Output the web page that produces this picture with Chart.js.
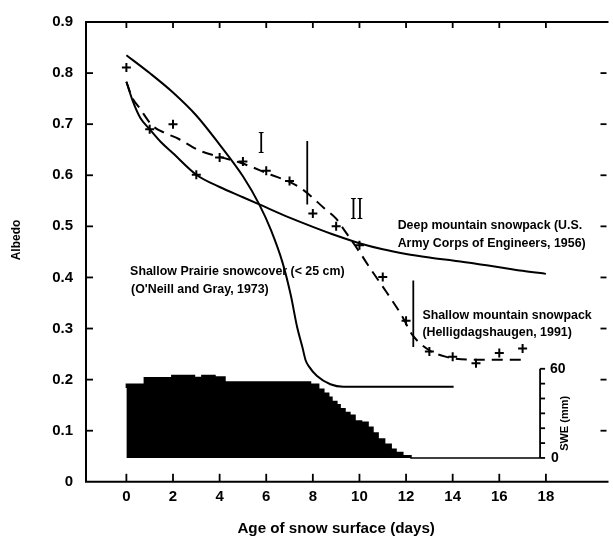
<!DOCTYPE html>
<html><head><meta charset="utf-8">
<script src="https://cdn.jsdelivr.net/npm/chart.js@4/dist/chart.umd.min.js"></script>
<style>html,body{margin:0;padding:0;background:#fff;}#wrap{width:613px;height:541px;}</style>
</head><body><div id="wrap"><canvas id="c" width="613" height="541"></canvas></div>
<script>
// ---- tick labels ----
const xTicks = [0, 2, 4, 6, 8, 10, 12, 14, 16, 18];
const yTicks = [0, 0.1, 0.2, 0.3, 0.4, 0.5, 0.6, 0.7, 0.8, 0.9];
const sweTicks = [0, 10, 20, 30, 40, 50, 60];
const sweTickLabels = ['0', '60'];

// ---- observed albedo (+ markers) ----
const obsDays   = [0, 1, 2, 3, 4, 5, 6, 7, 8, 9, 10, 11, 12, 13, 14, 15, 16, 17];
const obsAlbedo = [0.811, 0.690, 0.700, 0.601, 0.635, 0.627, 0.609, 0.589, 0.525, 0.500, 0.463, 0.401, 0.315, 0.255, 0.245, 0.232, 0.252, 0.261];

// ---- Shallow Prairie snowcover (O'Neill and Gray, 1973) ----
const prairieDays   = [0, 1, 2, 3, 4, 5, 5.7, 6.2, 6.7, 7.05, 7.33, 7.55, 7.69, 7.83, 8.18, 8.75, 9.31, 14.04];
const prairieAlbedo = [0.835, 0.800, 0.762, 0.717, 0.660, 0.598, 0.543, 0.493, 0.429, 0.366, 0.302, 0.264, 0.238, 0.226, 0.207, 0.191, 0.186, 0.186];

// ---- Deep mountain snowpack (U.S. Army Corps of Engineers, 1956) ----
const deepDays   = [0, 0.3, 0.6, 1, 1.5, 2, 3, 4, 5, 5.7, 7, 8, 9, 10, 11, 12, 13, 14, 15, 16, 17, 18];
const deepAlbedo = [0.783, 0.742, 0.712, 0.690, 0.664, 0.643, 0.601, 0.577, 0.557, 0.543, 0.517, 0.499, 0.482, 0.467, 0.455, 0.446, 0.439, 0.433, 0.427, 0.420, 0.413, 0.407];

// ---- Shallow mountain snowpack (Helligdagshaugen, 1991) ----
const shallowDays   = [0, 0.25, 0.56, 1.12, 1.7, 2.25, 3.1, 4, 4.93, 6.2, 7, 7.6, 8.5, 9, 9.31, 10, 10.5, 11, 11.78, 12.28, 12.98, 13.69, 14.82, 17];
const shallowAlbedo = [0.783, 0.752, 0.732, 0.697, 0.682, 0.671, 0.649, 0.636, 0.624, 0.601, 0.587, 0.571, 0.535, 0.515, 0.495, 0.450, 0.415, 0.382, 0.328, 0.287, 0.258, 0.245, 0.239, 0.239];

// ---- SWE (mm), stepped ----
const sweDays = [0, 0.77, 1.95, 2.92, 3.24, 3.8, 4.23, 7.9, 8.25, 8.47, 8.68, 8.82, 9.03, 9.17, 9.38, 9.59, 9.81, 10.09, 10.37, 10.58, 10.80, 11.08, 11.36, 11.57, 11.86, 12.21, 12.56, 17.75];
const sweMM   = [47.0, 49.5, 54.0, 55.5, 54.2, 55.5, 54.4, 51.1, 49.5, 46.2, 43.6, 40.8, 38.0, 35.8, 33.1, 30.5, 28.8, 24.9, 24.0, 20.7, 16.8, 12.8, 9.2, 5.9, 3.7, 1.5, 0, 0];

// ---- annotation markers ----
const breakLine1Day = 7.76, breakLine1Range = [0.543, 0.667];
const breakLine2Day = 12.31, breakLine2Range = [0.264, 0.394];
const sweAxisDay = 17.75;

const FONT = '"Liberation Sans", Arial, Helvetica, sans-serif';
const SERIF = '"Liberation Serif", "Times New Roman", serif';
const xy = (xs, ys) => xs.map((x, i) => ({x: x, y: ys[i]}));

const notes = [
  {text: 'Deep mountain snowpack (U.S.', x: 11.64, y: 0.502},
  {text: 'Army Corps of Engineers, 1956)', x: 11.64, y: 0.466},
  {text: 'Shallow mountain snowpack', x: 12.70, y: 0.3255},
  {text: '(Helligdagshaugen, 1991)', x: 12.70, y: 0.2925},
  {text: 'Shallow Prairie snowcover (< 25 cm)', x: 0.16, y: 0.412},
  {text: "(O'Neill and Gray, 1973)", x: 0.20, y: 0.377}
];
const romans = [{text: 'I', x: 5.78, y: 0.664}, {text: 'II', x: 9.88, y: 0.534}];

function seg(ctx, x1, y1, x2, y2) { ctx.beginPath(); ctx.moveTo(x1, y1); ctx.lineTo(x2, y2); ctx.stroke(); }

const framePlugin = {
  id: 'frame',
  afterDraw(chart) {
    const {ctx, chartArea: a, scales: {x, y, y2}} = chart;
    ctx.save();
    ctx.strokeStyle = '#000'; ctx.fillStyle = '#000';
    ctx.lineWidth = 2;
    ctx.beginPath();
    ctx.moveTo(a.right + 2, a.top); ctx.lineTo(a.left, a.top); ctx.lineTo(a.left, a.bottom); ctx.lineTo(a.right + 2, a.bottom);
    ctx.stroke();
    ctx.lineWidth = 1.8;
    xTicks.forEach(v => { const px = x.getPixelForValue(v); seg(ctx, px, a.bottom, px, a.bottom - 8); seg(ctx, px, a.top, px, a.top + 6); });
    yTicks.forEach(v => { if (v === 0 || v === 0.9) return; const py = y.getPixelForValue(v); seg(ctx, a.left, py, a.left + 7, py); seg(ctx, a.right, py, a.right - 6, py); });

    // SWE axis
    const sx = x.getPixelForValue(sweAxisDay);
    ctx.lineWidth = 1.8;
    seg(ctx, sx, y2.getPixelForValue(0), sx, y2.getPixelForValue(60));
    sweTicks.forEach(v => { const py = y2.getPixelForValue(v); seg(ctx, sx, py, sx + 5, py); });
    ctx.font = 'bold 14px ' + FONT; ctx.textAlign = 'left'; ctx.textBaseline = 'middle';
    ctx.fillText(sweTickLabels[0], sx + 11, y2.getPixelForValue(0));
    ctx.fillText(sweTickLabels[1], sx + 10, y2.getPixelForValue(60));
    ctx.save();
    ctx.translate(sx + 25, (y2.getPixelForValue(0) + y2.getPixelForValue(60)) / 2 + 10);
    ctx.rotate(-Math.PI / 2);
    ctx.font = 'bold 11px ' + FONT; ctx.textAlign = 'center'; ctx.textBaseline = 'middle';
    ctx.fillText('SWE (mm)', 0, 0);
    ctx.restore();

    // notes
    ctx.font = 'bold 12.4px ' + FONT; ctx.textAlign = 'left'; ctx.textBaseline = 'middle';
    notes.forEach(n => ctx.fillText(n.text, x.getPixelForValue(n.x), y.getPixelForValue(n.y)));

    // roman numerals
    ctx.font = '31px ' + SERIF; ctx.textAlign = 'center'; ctx.textBaseline = 'alphabetic';
    romans.forEach(r => {
      ctx.save();
      ctx.translate(x.getPixelForValue(r.x), y.getPixelForValue(r.y) + 10);
      ctx.scale(0.62, 1);
      ctx.fillText(r.text, 0, 0);
      ctx.restore();
    });

    // axis titles
    ctx.font = 'bold 15.2px ' + FONT; ctx.textAlign = 'center'; ctx.textBaseline = 'middle';
    ctx.fillText('Age of snow surface (days)', x.getPixelForValue(9), 529);
    ctx.save();
    ctx.translate(17, 240); ctx.rotate(-Math.PI / 2);
    ctx.font = 'bold 12px ' + FONT;
    ctx.fillText('Albedo', 0, 0);
    ctx.restore();
    ctx.restore();
  }
};

const lineBase = {borderColor: '#000', backgroundColor: '#000', pointRadius: 0, fill: false};

new Chart(document.getElementById('c'), {
  type: 'line',
  data: {
    datasets: [
      Object.assign({}, lineBase, {label: 'SWE', data: xy(sweDays, sweMM), yAxisID: 'y2', stepped: 'after', fill: {value: 0}, borderWidth: 1.5}),
      Object.assign({}, lineBase, {label: 'Shallow Prairie snowcover', data: xy(prairieDays, prairieAlbedo), borderWidth: 2, cubicInterpolationMode: 'monotone'}),
      Object.assign({}, lineBase, {label: 'Deep mountain snowpack', data: xy(deepDays, deepAlbedo), borderWidth: 2, cubicInterpolationMode: 'monotone'}),
      Object.assign({}, lineBase, {label: 'Shallow mountain snowpack', data: xy(shallowDays, shallowAlbedo), borderWidth: 2, borderDash: [11, 7], cubicInterpolationMode: 'monotone'}),
      Object.assign({}, lineBase, {label: 'Observed', data: xy(obsDays, obsAlbedo), showLine: false, pointStyle: 'cross', pointRadius: 4.5, pointBorderWidth: 2, pointBorderColor: '#000'}),
      Object.assign({}, lineBase, {label: 'break I', data: breakLine1Range.map(v => ({x: breakLine1Day, y: v})), borderWidth: 1.8, tension: 0}),
      Object.assign({}, lineBase, {label: 'break II', data: breakLine2Range.map(v => ({x: breakLine2Day, y: v})), borderWidth: 1.8, tension: 0})
    ]
  },
  options: {
    responsive: false, animation: false, devicePixelRatio: 1,
    layout: {padding: {top: 9.5, left: 0, right: 0, bottom: 0}},
    plugins: {legend: {display: false}, tooltip: {enabled: false}},
    scales: {
      x: {
        type: 'linear', min: -1.733, max: 20.6,
        afterBuildTicks: s => { s.ticks = xTicks.map(v => ({value: v})); },
        afterFit: s => { s.height = 59.2; },
        grid: {display: false, drawTicks: false}, border: {display: false},
        ticks: {padding: 6, color: '#000', maxRotation: 0, autoSkip: false, font: {family: FONT, size: 15, weight: 'bold'}}
      },
      y: {
        type: 'linear', min: 0, max: 0.9,
        afterBuildTicks: s => { s.ticks = yTicks.map(v => ({value: v})); },
        afterFit: s => { s.width = 86; },
        grid: {display: false, drawTicks: false}, border: {display: false},
        ticks: {padding: 13, color: '#000', font: {family: FONT, size: 15, weight: 'bold'}, callback: v => v === 0 ? '0' : v.toFixed(1)}
      },
      y2: {type: 'linear', display: false, min: -16.05, max: 293.3}
    }
  },
  plugins: [framePlugin]
});
</script>
</body></html>
